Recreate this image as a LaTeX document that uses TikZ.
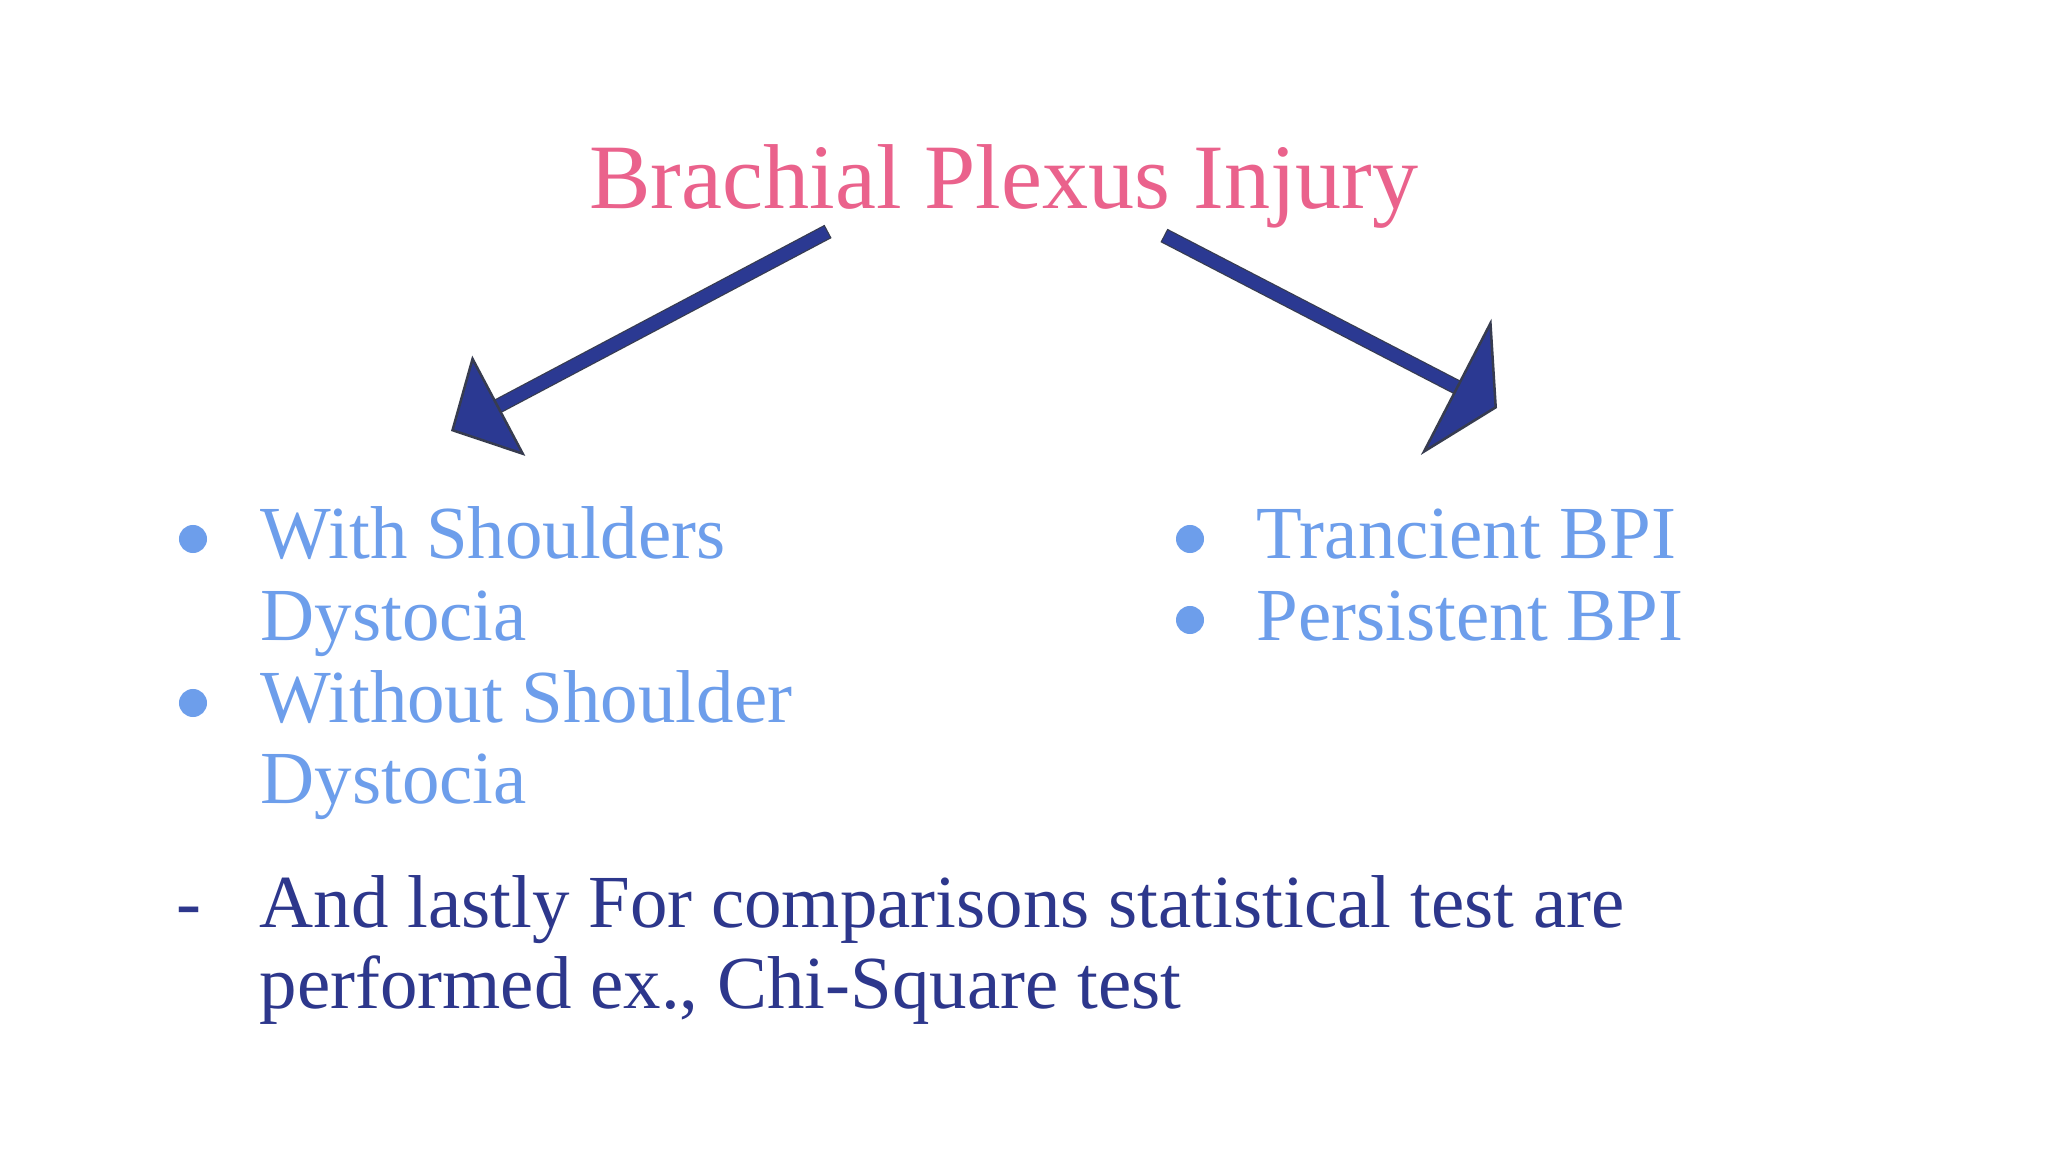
\documentclass[tikz,border=0pt]{standalone}
\usepackage{fontspec}
\setmainfont{Liberation Serif}
\usepackage{tikz}
\usetikzlibrary{arrows.meta, positioning}

\definecolor{titlepink}{RGB}{234,98,140}
\definecolor{arrowblue}{RGB}{43,57,146}
\definecolor{arrowedge}{RGB}{55,60,80}
\definecolor{itemblue}{RGB}{109,158,235}
\definecolor{notenavy}{RGB}{45,55,140}

\begin{document}
\begin{tikzpicture}[x=0.01cm, y=-0.01cm,
    % Styles
    title/.style={anchor=base, inner sep=0, text=titlepink, font=\fontsize{26.2}{31}\selectfont},
    item/.style={anchor=base west, inner sep=0, text=itemblue, font=\fontsize{21.3}{25}\selectfont},
    note/.style={anchor=base west, inner sep=0, text=notenavy, font=\fontsize{21.3}{25}\selectfont},
    bullet dot/.style={circle, fill=itemblue, minimum size=2.8mm, inner sep=0},
    branch arrow/.style={draw=arrowblue, line width=1.25mm,
        preaction={draw=arrowedge, line width=1.5mm, arrows=-, shorten >=3mm, shorten <=-0.12mm}},
]
    \path[fill=white, use as bounding box] (0,0) rectangle (2048,1152);

    % Title
    \node[title] (title) at (1004,209) {Brachial Plexus Injury};

    % Arrow ends
    \coordinate (left tail) at (827,232);
    \coordinate (left tip) at (451,431);
    \coordinate (right tail) at (1165,236);
    \coordinate (right tip) at (1497,408);

    % Arrows
    \draw[branch arrow, -{Triangle[length=5.4mm, width=11.3mm, fill=arrowblue, color=arrowedge, line width=0.25mm]}] (left tail) -- (left tip);
    \draw[branch arrow, -{Triangle[length=4.6mm, width=15.3mm, fill=arrowblue, color=arrowedge, line width=0.25mm]}] (right tail) -- (right tip);

    % Left list
    \node[bullet dot] (dot1) at (193,539) {};
    \node[item] (with1) at (260,559) {With Shoulders};
    \node[item, below=8.16mm of with1.base west, anchor=base west] (with2) {Dystocia};
    \node[bullet dot] (dot2) at (193,703) {};
    \node[item, below=8.16mm of with2.base west, anchor=base west] (without1) {Without Shoulder};
    \node[item, below=8.16mm of without1.base west, anchor=base west] (without2) {Dystocia};

    % Right list
    \node[bullet dot] (dot3) at (1190,539) {};
    \node[item] (trancient) at (1256,559) {Trancient BPI};
    \node[bullet dot] (dot4) at (1190,620) {};
    \node[item, below=8.16mm of trancient.base west, anchor=base west] (persistent) {Persistent BPI};

    % Closing note
    \node[note] (dash) at (176,927) {-};
    \node[note] (note1) at (259,927) {And lastly For comparisons statistical test are};
    \node[note, below=8.1mm of note1.base west, anchor=base west] (note2) {performed ex., Chi-Square test};
\end{tikzpicture}
\end{document}
